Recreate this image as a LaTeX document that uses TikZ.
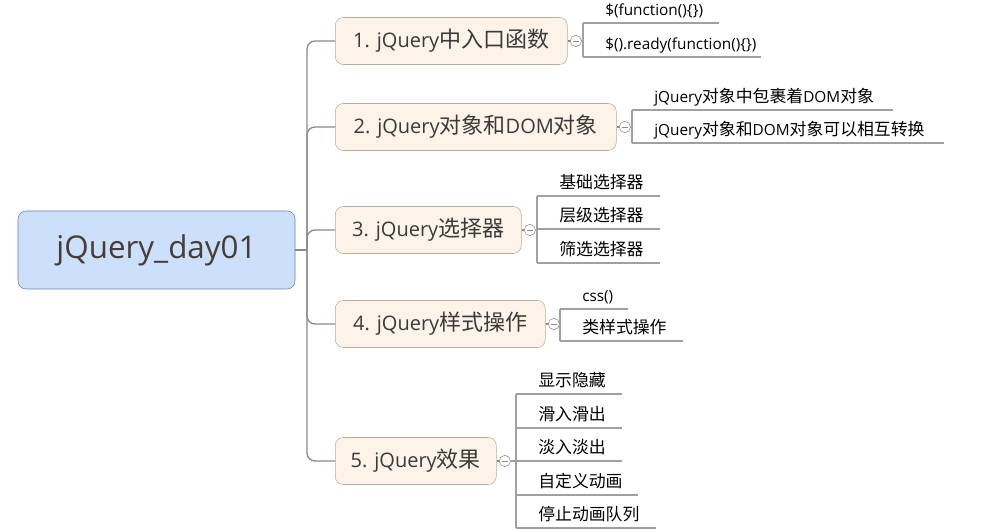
\documentclass[tikz,border=0pt]{standalone}
\usepackage{fontspec}
\setmainfont{Open Sans}
\newfontfamily\cjk[Scale=1.1]{Noto Sans CJK SC}
\usetikzlibrary{positioning}
\definecolor{rootfill}{HTML}{CCDFFB}
\definecolor{rootdraw}{HTML}{6680B8}
\definecolor{rootink}{HTML}{463E36}
\definecolor{topicfill}{HTML}{FDF3E9}
\definecolor{topicdraw}{HTML}{B8AA9C}
\definecolor{topicink}{HTML}{3A3A3A}
\definecolor{linkgray}{HTML}{8A8A8A}
\definecolor{leafgray}{HTML}{A0A0A0}
\tikzstyle{root} = [rectangle, rounded corners=6pt, minimum width=207.75pt, minimum height=58.5pt, draw=rootdraw, fill=rootfill, text=rootink, font=\fontsize{23.5}{27}\selectfont]
\tikzstyle{topic} = [rectangle, rounded corners=6pt, anchor=west, minimum height=35.25pt, draw=topicdraw, fill=topicfill, text=topicink, font=\fontsize{15}{18}\selectfont]
\tikzstyle{fold} = [circle, draw=linkgray, fill=white, minimum size=8.5pt, inner sep=0pt, path picture={\draw[linkgray] ([xshift=-2.2pt]path picture bounding box.center) -- ([xshift=2.2pt]path picture bounding box.center);}]
\tikzstyle{leaf} = [anchor=south west, inner xsep=0pt, inner ysep=3.5pt, text depth=2pt, align=left, font=\fontsize{11.5}{14}\selectfont, execute at begin node=\hspace*{16.5pt}]
\tikzstyle{link} = [linkgray, line width=1pt, rounded corners=6pt]
\tikzstyle{leafline} = [leafgray, line width=0.8pt]

\begin{document}
\begin{tikzpicture}[x=0.75pt, y=-0.75pt]
    \useasboundingbox (0,0) rectangle (1007,530);

    % central topic
    \node (day) [root] at (156.5,250) {jQuery\_day01};
    \coordinate (trunk) at (307,250);

    % main topics
    \node (entry) [topic, minimum width=174pt] at (335,41) {1. jQuery{\cjk 中入口函数}};
    \node (objects) [topic, minimum width=210.75pt] at (335,127) {2. jQuery{\cjk 对象和}DOM{\cjk 对象}};
    \node (selectors) [topic, minimum width=139.5pt] at (335,230) {3. jQuery{\cjk 选择器}};
    \node (styles) [topic, minimum width=157.5pt] at (335,324) {4. jQuery{\cjk 样式操作}};
    \node (effects) [topic, minimum width=120.75pt] at (335,461) {5. jQuery{\cjk 效果}};

    \node (entry_fold) [fold, right=1.8pt of entry] {};
    \node (objects_fold) [fold, right=1.8pt of objects] {};
    \node (selectors_fold) [fold, right=1.8pt of selectors] {};
    \node (styles_fold) [fold, right=1.8pt of styles] {};
    \node (effects_fold) [fold, right=1.8pt of effects] {};

    % subtopics
    \node (entry_a) [leaf, text width=101.25pt] at (583,23) {\$(function()\{\})};
    \node (entry_b) [leaf, text width=132.75pt] at (583,57) {\$().ready(function()\{\})};

    \node (objects_a) [leaf, text width=195pt] at (632,110) {jQuery{\cjk 对象中包裹着}DOM{\cjk 对象}};
    \node (objects_b) [leaf, text width=233.25pt] at (632,143) {jQuery{\cjk 对象和}DOM{\cjk 对象可以相互转换}};

    \node (selectors_a) [leaf, text width=91.5pt] at (537,196) {\cjk 基础选择器};
    \node (selectors_b) [leaf, text width=91.5pt] at (537,229) {\cjk 层级选择器};
    \node (selectors_c) [leaf, text width=91.5pt] at (537,263) {\cjk 筛选选择器};

    \node (styles_a) [leaf, text width=50.25pt] at (560,309) {css()};
    \node (styles_b) [leaf, text width=91.5pt] at (560,341) {\cjk 类样式操作};

    \node (effects_a) [leaf, text width=78.75pt] at (516,394) {\cjk 显示隐藏};
    \node (effects_b) [leaf, text width=78.75pt] at (516,428) {\cjk 滑入滑出};
    \node (effects_c) [leaf, text width=78.75pt] at (516,461) {\cjk 淡入淡出};
    \node (effects_d) [leaf, text width=90.75pt] at (516,495) {\cjk 自定义动画};
    \node (effects_e) [leaf, text width=104.25pt] at (516,528) {\cjk 停止动画队列};

    % branches
    \draw [link] (day.east) -- (trunk);
    \draw [link] (trunk) |- (entry.west);
    \draw [link] (trunk) |- (objects.west);
    \draw [link] (trunk) |- (selectors.west);
    \draw [link] (trunk) |- (styles.west);
    \draw [link] (trunk) |- (effects.west);

    \draw [link] (entry.east) -- (entry_fold);
    \draw [link] (objects.east) -- (objects_fold);
    \draw [link] (selectors.east) -- (selectors_fold);
    \draw [link] (styles.east) -- (styles_fold);
    \draw [link] (effects.east) -- (effects_fold);

    \draw [leafline] (entry_fold) -- (entry_fold -| entry_a.south west);
    \draw [leafline] (objects_fold) -- (objects_fold -| objects_a.south west);
    \draw [leafline] (selectors_fold) -- (selectors_fold -| selectors_a.south west);
    \draw [leafline] (styles_fold) -- (styles_fold -| styles_a.south west);
    \draw [leafline] (effects_fold) -- (effects_fold -| effects_a.south west);

    % underlines
    \draw [leafline] (entry_a.south west) -- (entry_a.south east);
    \draw [leafline] (entry_b.south west) -- (entry_b.south east);
    \draw [leafline] (entry_a.south west) -- (entry_b.south west);
    \draw [leafline] (objects_a.south west) -- (objects_a.south east);
    \draw [leafline] (objects_b.south west) -- (objects_b.south east);
    \draw [leafline] (objects_a.south west) -- (objects_b.south west);
    \draw [leafline] (selectors_a.south west) -- (selectors_a.south east);
    \draw [leafline] (selectors_b.south west) -- (selectors_b.south east);
    \draw [leafline] (selectors_c.south west) -- (selectors_c.south east);
    \draw [leafline] (selectors_a.south west) -- (selectors_c.south west);
    \draw [leafline] (styles_a.south west) -- (styles_a.south east);
    \draw [leafline] (styles_b.south west) -- (styles_b.south east);
    \draw [leafline] (styles_a.south west) -- (styles_b.south west);
    \draw [leafline] (effects_a.south west) -- (effects_a.south east);
    \draw [leafline] (effects_b.south west) -- (effects_b.south east);
    \draw [leafline] (effects_c.south west) -- (effects_c.south east);
    \draw [leafline] (effects_d.south west) -- (effects_d.south east);
    \draw [leafline] (effects_e.south west) -- (effects_e.south east);
    \draw [leafline] (effects_a.south west) -- (effects_e.south west);

\end{tikzpicture}
\end{document}
